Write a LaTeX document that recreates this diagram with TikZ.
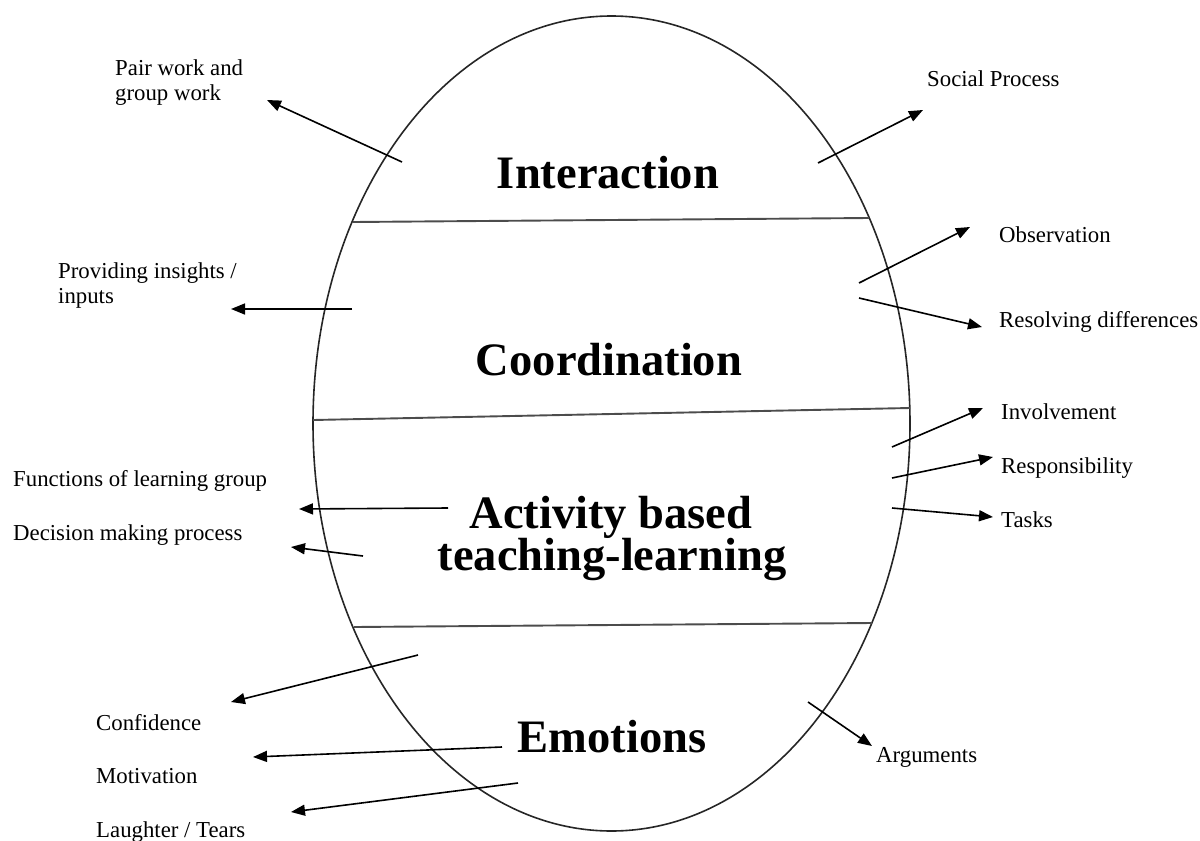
\documentclass[tikz,border=0pt]{standalone}
\usepackage{fontspec}
\setmainfont{Liberation Serif}
\usetikzlibrary{arrows.meta}
\tikzset{
  lbl/.style={anchor=base west, inner sep=0pt, font=\fontsize{22.8}{25}\selectfont},
  ttl/.style={anchor=base, inner sep=0pt, font=\fontsize{46.5}{42}\selectfont\bfseries},
  arr/.style={line width=1.6pt, -{Triangle[length=14pt,width=11pt]}},
  divider/.style={line width=1.9pt, draw=black!70},
  oval/.style={line width=1.6pt, draw=black!85}
}
\begin{document}
\begin{tikzpicture}[x=1pt,y=-1pt]
\useasboundingbox (0,0) rectangle (1200,841);
% ellipse
\draw[oval] (611.5,423.5) ellipse [x radius=298.5pt, y radius=407.5pt];
% dividers
\coordinate (d1a) at (353,222); \coordinate (d1b) at (869,218);
\coordinate (d2a) at (313,420); \coordinate (d2b) at (910,408);
\coordinate (d3a) at (354,627); \coordinate (d3b) at (872,623);
\draw[divider] (d1a) -- (d1b);
\draw[divider] (d2a) -- (d2b);
\draw[divider] (d3a) -- (d3b);
% titles
\node[ttl] (t1) at (608,188) {Interaction};
\node[ttl] (t2) at (609,375) {Coordination};
\node[ttl] (t3a) at (611,528) {Activity based};
\node[ttl] (t3b) at (612,570) {teaching-learning};
\node[ttl] (t4) at (612,752) {Emotions};
% labels
\node[lbl] (pw1) at (115,75) {Pair work and};
\node[lbl] (pw2) at (115,100) {group work};
\node[lbl] (sp) at (927,86) {Social Process};
\node[lbl] (ob) at (999,242) {Observation};
\node[lbl] (rd) at (999,327) {Resolving differences};
\node[lbl] (pi1) at (58,278) {Providing insights /};
\node[lbl] (pi2) at (58,303) {inputs};
\node[lbl] (inv) at (1001,419) {Involvement};
\node[lbl] (res) at (1001,473) {Responsibility};
\node[lbl] (tsk) at (1001,527) {Tasks};
\node[lbl] (fn) at (13,486) {Functions of learning group};
\node[lbl] (dm) at (13,540) {Decision making process};
\node[lbl] (cf) at (96,730) {Confidence};
\node[lbl] (mo) at (96,783) {Motivation};
\node[lbl] (lt) at (96,837) {Laughter / Tears};
\node[lbl] (ar) at (876,762) {Arguments};
% arrow ends
\coordinate (a1s) at (402,162); \coordinate (a1e) at (267,100);
\coordinate (a2s) at (818,163); \coordinate (a2e) at (923,110);
\coordinate (a3s) at (859,283); \coordinate (a3e) at (970,227);
\coordinate (a4s) at (859,298); \coordinate (a4e) at (982,327);
\coordinate (a5s) at (352,309); \coordinate (a5e) at (231,309);
\coordinate (a6s) at (892,447); \coordinate (a6e) at (983,408);
\coordinate (a7s) at (892,478); \coordinate (a7e) at (993,457);
\coordinate (a8s) at (892,508); \coordinate (a8e) at (993,517);
\coordinate (a9s) at (448,508); \coordinate (a9e) at (299,509);
\coordinate (a10s) at (363,556); \coordinate (a10e) at (291,547);
\coordinate (a11s) at (418,655); \coordinate (a11e) at (231,702);
\coordinate (a12s) at (502,747); \coordinate (a12e) at (253,757);
\coordinate (a13s) at (518,783); \coordinate (a13e) at (291,812);
\coordinate (a14s) at (808,702); \coordinate (a14e) at (872,746);
\foreach \i in {1,...,14} {\draw[arr] (a\i s) -- (a\i e);}
\end{tikzpicture}
\end{document}
